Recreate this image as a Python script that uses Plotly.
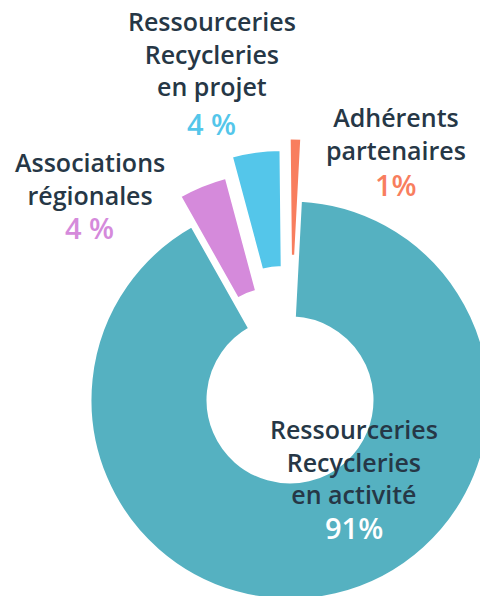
import math
import plotly.graph_objects as go

# ---- data ----
labels = ["Ressourceries Recycleries en activité", "Associations régionales",
          "Ressourceries Recycleries en projet", "Adhérents partenaires"]
values = [91, 4, 4, 1]
pct_text = ["91%", "4 %", "4 %", "1%"]
name_text = ["Ressourceries<br>Recycleries<br>en activité", "Associations<br>régionales",
             "Ressourceries<br>Recycleries<br>en projet", "Adhérents<br>partenaires"]

# ---- style ----
colors = ["#55B1C1", "#D58ADB", "#54C6EA", "#F87E5E"]
pct_colors = ["#FFFFFF", "#D58ADB", "#54C6EA", "#F87E5E"]
navy = "#263746"
pulls = [0.0, 0.16, 0.255, 0.31]     # fraction of radius
W, H = 488, 596
OFF = 8                              # page body margin (screen px = figure px + OFF)
CX, CY, R = 290.0, 400.0, 200.0      # screen-pixel centre / radius of the ring
ROT = 3
HOLE = 0.41

# label centres in screen pixels (name block, percentage)
name_pos = [(354, 461), (90, 178), (212, 53), (396, 133)]
pct_pos = [(354, 527), (89, 227), (211, 123), (396, 184)]


def fx(x):
    return (x - OFF) / W


def fy(y):
    return 1 - (y - OFF) / H


total = sum(values)
fig = go.Figure()

cum = 0.0
for i, v in enumerate(values):
    start = ROT + 360.0 * cum / total
    mid = math.radians(start + 180.0 * v / total)
    cum += v
    off = pulls[i] * R
    cx = CX + off * math.sin(mid)
    cy = CY - off * math.cos(mid)
    x0 = max(0.0, fx(cx - R))
    x1 = min(1.0, fx(cx + R))
    y0 = max(0.0, fy(cy + R))
    y1 = min(1.0, fy(cy - R))
    cols = [colors[j] if j == i else "rgba(0,0,0,0)" for j in range(len(values))]
    lw = [3 if j == i else 0 for j in range(len(values))]
    fig.add_trace(go.Pie(
        labels=labels, values=values, sort=False, direction="clockwise",
        rotation=ROT, hole=HOLE, textinfo="none", hoverinfo="label+percent",
        marker=dict(colors=cols, line=dict(color="white", width=lw)),
        domain=dict(x=[x0, x1], y=[y0, y1]), showlegend=False,
    ))

ann = []
for i in range(len(values)):
    nx, ny = name_pos[i]
    ann.append(dict(x=fx(nx), y=fy(ny), xref="paper", yref="paper",
                    text=name_text[i], showarrow=False, xanchor="center", yanchor="middle",
                    font=dict(family="Open Sans", size=25, color=navy, weight=600)))
    px, py = pct_pos[i]
    ann.append(dict(x=fx(px), y=fy(py), xref="paper", yref="paper",
                    text=pct_text[i], showarrow=False, xanchor="center", yanchor="middle",
                    font=dict(family="Open Sans", size=29, color=pct_colors[i], weight=600)))

fig.update_layout(width=W, height=H, margin=dict(l=0, r=0, t=0, b=0),
                  paper_bgcolor="white", plot_bgcolor="white", annotations=ann)
fig.write_html("out.html")
